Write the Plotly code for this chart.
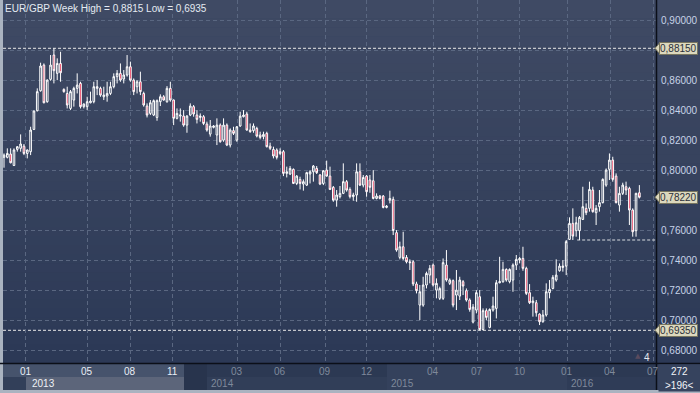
import plotly.graph_objects as go

# ---------------- data (weekly EUR/GBP candles) ----------------
open_ = [0.8088, 0.8088, 0.8110, 0.8034, 0.8141, 0.8148, 0.8163, 0.8114, 0.8126, 0.8274,
         0.8399, 0.8532, 0.8703, 0.8459, 0.8608, 0.8770, 0.8648, 0.8714, 0.8541, 0.8514,
         0.8414, 0.8470, 0.8548, 0.8581, 0.8426, 0.8426, 0.8452, 0.8459, 0.8548, 0.8548,
         0.8492, 0.8497, 0.8514, 0.8559, 0.8626, 0.8648, 0.8610, 0.8637, 0.8692, 0.8603,
         0.8559, 0.8592, 0.8514, 0.8430, 0.8381, 0.8370, 0.8354, 0.8459, 0.8492, 0.8459,
         0.8548, 0.8470, 0.8348, 0.8363, 0.8363, 0.8303, 0.8370, 0.8426, 0.8370, 0.8354,
         0.8359, 0.8310, 0.8243, 0.8288, 0.8237, 0.8303, 0.8203, 0.8303, 0.8170, 0.8266,
         0.8203, 0.8297, 0.8359, 0.8377, 0.8270, 0.8266, 0.8281, 0.8237, 0.8226, 0.8248,
         0.8163, 0.8141, 0.8137, 0.8126, 0.8126, 0.7981, 0.7977, 0.8008, 0.7914, 0.7941,
         0.7910, 0.7903, 0.7977, 0.7992, 0.8014, 0.7970, 0.7914, 0.8003, 0.7963, 0.7888,
         0.7803, 0.7826, 0.7848, 0.7926, 0.7874, 0.7826, 0.7837, 0.7992, 0.7903, 0.7963,
         0.7937, 0.7932, 0.7814, 0.7830, 0.7830, 0.7754, 0.7803, 0.7808, 0.7586, 0.7421,
         0.7492, 0.7421, 0.7392, 0.7392, 0.7244, 0.7103, 0.7103, 0.7237, 0.7303, 0.7370,
         0.7203, 0.7148, 0.7148, 0.7370, 0.7248, 0.7266, 0.7170, 0.7163, 0.7259, 0.7199,
         0.7137, 0.6990, 0.7070, 0.7159, 0.6940, 0.7066, 0.6954, 0.7070, 0.7081, 0.7252,
         0.7259, 0.7341, 0.7259, 0.7270, 0.7370, 0.7403, 0.7414, 0.7348, 0.7186, 0.7119,
         0.7119, 0.7043, 0.6992, 0.7037, 0.7186, 0.7214, 0.7270, 0.7332, 0.7354, 0.7363,
         0.7541, 0.7648, 0.7599, 0.7599, 0.7674, 0.7748, 0.7748, 0.7870, 0.7719, 0.7759,
         0.7786, 0.7903, 0.8008, 0.8070, 0.7963, 0.7770, 0.7848, 0.7892, 0.7881, 0.7737,
         0.7599, 0.7852]
high = [0.8114, 0.8148, 0.8148, 0.8148, 0.8163, 0.8241, 0.8177, 0.8141, 0.8292, 0.8399,
        0.8548, 0.8719, 0.8714, 0.8608, 0.8770, 0.8815, 0.8748, 0.8792, 0.8548, 0.8559,
        0.8537, 0.8559, 0.8648, 0.8592, 0.8448, 0.8492, 0.8526, 0.8592, 0.8603, 0.8559,
        0.8559, 0.8592, 0.8592, 0.8648, 0.8670, 0.8714, 0.8670, 0.8770, 0.8726, 0.8614,
        0.8603, 0.8659, 0.8526, 0.8448, 0.8470, 0.8474, 0.8474, 0.8508, 0.8503, 0.8563,
        0.8592, 0.8474, 0.8414, 0.8414, 0.8403, 0.8370, 0.8448, 0.8437, 0.8403, 0.8381,
        0.8370, 0.8326, 0.8337, 0.8303, 0.8348, 0.8314, 0.8348, 0.8314, 0.8281, 0.8292,
        0.8297, 0.8392, 0.8403, 0.8392, 0.8314, 0.8314, 0.8292, 0.8259, 0.8259, 0.8259,
        0.8186, 0.8159, 0.8148, 0.8148, 0.8137, 0.8026, 0.8030, 0.8014, 0.7970, 0.7959,
        0.7941, 0.7992, 0.8003, 0.8037, 0.8030, 0.7977, 0.8003, 0.8066, 0.8026, 0.7897,
        0.7870, 0.7897, 0.8048, 0.7937, 0.7888, 0.7852, 0.8048, 0.8048, 0.7970, 0.7970,
        0.7970, 0.8003, 0.7848, 0.7837, 0.7837, 0.7770, 0.7866, 0.7826, 0.7603, 0.7526,
        0.7592, 0.7437, 0.7408, 0.7403, 0.7259, 0.7237, 0.7292, 0.7326, 0.7370, 0.7381,
        0.7281, 0.7226, 0.7414, 0.7470, 0.7281, 0.7274, 0.7337, 0.7292, 0.7270, 0.7214,
        0.7148, 0.7110, 0.7203, 0.7203, 0.7081, 0.7081, 0.7081, 0.7159, 0.7270, 0.7425,
        0.7392, 0.7348, 0.7348, 0.7381, 0.7437, 0.7425, 0.7492, 0.7359, 0.7243, 0.7159,
        0.7137, 0.7048, 0.7070, 0.7248, 0.7270, 0.7303, 0.7408, 0.7381, 0.7403, 0.7537,
        0.7688, 0.7748, 0.7692, 0.7697, 0.7892, 0.7781, 0.7926, 0.7892, 0.7770, 0.7870,
        0.7948, 0.8014, 0.8114, 0.8092, 0.7981, 0.7892, 0.7919, 0.7926, 0.7892, 0.7748,
        0.7852, 0.7903]
low = [0.8019, 0.8081, 0.8048, 0.8030, 0.8126, 0.8126, 0.8103, 0.8081, 0.8103, 0.8270,
       0.8394, 0.8526, 0.8448, 0.8452, 0.8599, 0.8581, 0.8603, 0.8592, 0.8519, 0.8414,
       0.8403, 0.8426, 0.8514, 0.8414, 0.8414, 0.8403, 0.8448, 0.8448, 0.8503, 0.8492,
       0.8470, 0.8459, 0.8503, 0.8548, 0.8581, 0.8592, 0.8581, 0.8626, 0.8592, 0.8503,
       0.8514, 0.8503, 0.8426, 0.8354, 0.8370, 0.8363, 0.8332, 0.8430, 0.8466, 0.8452,
       0.8459, 0.8303, 0.8341, 0.8326, 0.8292, 0.8252, 0.8363, 0.8359, 0.8314, 0.8326,
       0.8303, 0.8259, 0.8226, 0.8281, 0.8170, 0.8186, 0.8192, 0.8163, 0.8154, 0.8237,
       0.8192, 0.8292, 0.8354, 0.8266, 0.8252, 0.8252, 0.8221, 0.8208, 0.8208, 0.8154,
       0.8137, 0.8081, 0.8074, 0.8103, 0.7963, 0.7954, 0.7970, 0.7910, 0.7903, 0.7874,
       0.7866, 0.7897, 0.7914, 0.7926, 0.7977, 0.7903, 0.7903, 0.7959, 0.7870, 0.7792,
       0.7759, 0.7814, 0.7843, 0.7859, 0.7814, 0.7799, 0.7792, 0.7897, 0.7888, 0.7826,
       0.7852, 0.7808, 0.7808, 0.7808, 0.7748, 0.7748, 0.7781, 0.7570, 0.7459, 0.7408,
       0.7403, 0.7381, 0.7337, 0.7230, 0.7181, 0.7003, 0.7092, 0.7214, 0.7248, 0.7226,
       0.7148, 0.7137, 0.7137, 0.7259, 0.7237, 0.7088, 0.7070, 0.7137, 0.7170, 0.7126,
       0.7059, 0.6981, 0.7048, 0.6935, 0.6935, 0.7003, 0.6948, 0.7059, 0.7014, 0.7248,
       0.7252, 0.7259, 0.7248, 0.7192, 0.7337, 0.7381, 0.7332, 0.7170, 0.7110, 0.7026,
       0.7026, 0.6970, 0.6986, 0.7026, 0.7148, 0.7208, 0.7259, 0.7326, 0.7326, 0.7303,
       0.7537, 0.7537, 0.7559, 0.7537, 0.7670, 0.7703, 0.7726, 0.7719, 0.7637, 0.7726,
       0.7781, 0.7892, 0.7937, 0.7926, 0.7781, 0.7726, 0.7837, 0.7837, 0.7637, 0.7559,
       0.7559, 0.7814]
close = [0.8103, 0.8114, 0.8052, 0.8137, 0.8159, 0.8177, 0.8114, 0.8137, 0.8270, 0.8397,
         0.8526, 0.8697, 0.8452, 0.8603, 0.8703, 0.8666, 0.8714, 0.8652, 0.8526, 0.8437,
         0.8526, 0.8548, 0.8570, 0.8426, 0.8443, 0.8459, 0.8463, 0.8559, 0.8559, 0.8503,
         0.8503, 0.8514, 0.8559, 0.8626, 0.8648, 0.8603, 0.8637, 0.8692, 0.8603, 0.8526,
         0.8592, 0.8526, 0.8437, 0.8370, 0.8452, 0.8466, 0.8466, 0.8492, 0.8470, 0.8548,
         0.8470, 0.8348, 0.8381, 0.8370, 0.8303, 0.8363, 0.8430, 0.8377, 0.8341, 0.8363,
         0.8314, 0.8270, 0.8297, 0.8297, 0.8303, 0.8192, 0.8303, 0.8170, 0.8270, 0.8248,
         0.8292, 0.8363, 0.8370, 0.8270, 0.8259, 0.8297, 0.8230, 0.8221, 0.8241, 0.8159,
         0.8148, 0.8097, 0.8088, 0.8114, 0.7981, 0.7992, 0.8014, 0.7914, 0.7963, 0.7914,
         0.7926, 0.7986, 0.7992, 0.8030, 0.7986, 0.7910, 0.7999, 0.7963, 0.7874, 0.7803,
         0.7837, 0.7848, 0.7926, 0.7870, 0.7826, 0.7837, 0.7992, 0.7903, 0.7954, 0.7859,
         0.7888, 0.7814, 0.7830, 0.7814, 0.7754, 0.7763, 0.7814, 0.7600, 0.7470, 0.7492,
         0.7414, 0.7392, 0.7386, 0.7244, 0.7199, 0.7192, 0.7237, 0.7314, 0.7348, 0.7237,
         0.7248, 0.7214, 0.7386, 0.7270, 0.7270, 0.7103, 0.7203, 0.7270, 0.7230, 0.7137,
         0.7074, 0.7090, 0.7186, 0.6940, 0.7066, 0.7021, 0.7074, 0.7097, 0.7252, 0.7259,
         0.7341, 0.7270, 0.7341, 0.7370, 0.7408, 0.7414, 0.7348, 0.7181, 0.7119, 0.7130,
         0.7052, 0.6992, 0.7037, 0.7192, 0.7208, 0.7288, 0.7303, 0.7363, 0.7363, 0.7526,
         0.7648, 0.7563, 0.7652, 0.7688, 0.7759, 0.7719, 0.7874, 0.7726, 0.7748, 0.7786,
         0.7941, 0.8003, 0.8070, 0.7941, 0.7786, 0.7848, 0.7903, 0.7870, 0.7737, 0.7592,
         0.7848, 0.7822]

price_ticks = [0.68, 0.70, 0.72, 0.74, 0.76, 0.78, 0.80, 0.82, 0.84, 0.86, 0.88, 0.90]
month_ticks = [6.6, 25.0, 37.9, 50.8, 70.1, 83.0, 96.5, 109.1, 129.0, 142.2, 155.1, 169.3, 182.2, 195.1]
month_labels = ["01", "05", "08", "11", "03", "06", "09", "12", "04", "07", "10", "01", "04", "07"]
month_year = [2013, 2013, 2013, 2013, 2014, 2014, 2014, 2014, 2015, 2015, 2015, 2016, 2016, 2016]
year_labels = ["2013", "2014", "2015", "2016"]
support_level = 0.7537
support_start = 172.3
bars_total = 272
bars_visible = 196

x = list(range(len(close)))
hi, lo, last = max(high), min(low), close[-1]
marked = (hi, last, lo)
label_ticks = [v for v in price_ticks if all(abs(v - m) > 0.005 for m in marked)]


def dec(v, n):
    return f"{v:.{n}f}".replace(".", ",")


# ---------------- geometry helpers (pixel -> paper) ----------------
W, H = 700, 393
L, R, T, B = 3, 43, 0, 30
PW, PH = W - L - R, H - T - B


def px(p):
    return (p - L) / PW


def py(p):
    return (H - B - p) / PH


fig = go.Figure()
fig.add_trace(go.Candlestick(
    x=x, open=open_, high=high, low=low, close=close,
    increasing=dict(line=dict(color="#ffffff", width=1), fillcolor="rgba(0,0,0,0)"),
    decreasing=dict(line=dict(color="#ffffff", width=1), fillcolor="#e3143c"),
    whiskerwidth=0, showlegend=False, hoverinfo="skip",
))

shapes = []
# background gradient for chart + right scale
N = 40
top_c, bot_c = (63, 74, 100), (44, 57, 86)
for i in range(N):
    t = i / (N - 1)
    c = tuple(round(top_c[k] + (bot_c[k] - top_c[k]) * t) for k in range(3))
    y0 = i * 363 / N
    y1 = (i + 1) * 363 / N + 0.5
    shapes.append(dict(type="rect", xref="paper", yref="paper", x0=px(0), x1=px(700),
                       y0=py(y1), y1=py(y0), fillcolor="rgb(%d,%d,%d)" % c,
                       line=dict(width=0), layer="below"))


def rect(x0, x1, y0, y1, color, layer="below"):
    shapes.append(dict(type="rect", xref="paper", yref="paper", x0=px(x0), x1=px(x1),
                       y0=py(y1), y1=py(y0), fillcolor=color, line=dict(width=0), layer=layer))


# bottom time bar
rect(0, 700, 363, 393, "#2c3953")
rect(3, 184, 364, 377, "#46536c")
rect(184, 207, 364, 390, "#28344d")
rect(3, 26, 377, 390, "#323f59")
rect(26, 184, 377, 390, "#5c657a")
rect(207, 387, 377, 390, "#313e58")
rect(387, 567, 364, 390, "#34415c")
rect(567, 656, 377, 390, "#2f3c57")
rect(657, 700, 363, 390, "#36435e")
rect(0, 700, 390, 393, "#aab3c0", "above")
rect(0, 3, 0, 393, "#aab3c0", "above")

# level lines
for lvl in (hi, lo):
    shapes.append(dict(type="line", xref="paper", yref="y", x0=px(3), x1=1, y0=lvl, y1=lvl,
                       line=dict(color="#e8e8e8", width=1, dash="3px,2px"), layer="between"))
shapes.append(dict(type="line", xref="x", yref="y", x0=support_start, x1=len(close) + 10,
                   y0=support_level, y1=support_level,
                   line=dict(color="#d8dbe0", width=1, dash="3px,2px"), layer="between"))

# frame lines
shapes.append(dict(type="line", xref="paper", yref="paper", x0=px(0), x1=px(700), y0=py(363.5), y1=py(363.5),
                   line=dict(color="#0b0f18", width=1.5), layer="above"))
shapes.append(dict(type="line", xref="paper", yref="paper", x0=px(656.5), x1=px(656.5), y0=py(0), y1=py(390),
                   line=dict(color="#0b0f18", width=1.5), layer="above"))
shapes.append(dict(type="line", xref="paper", yref="paper", x0=px(663), x1=px(696), y0=py(377), y1=py(377),
                   line=dict(color="#5d6a84", width=1), layer="above"))

annotations = []
# title
annotations.append(dict(text=f"EUR/GBP Week High = {dec(hi, 4)} Low = {dec(lo, 4)}",
                        xref="paper", yref="paper", x=px(3), y=py(8), xanchor="left", yanchor="middle",
                        showarrow=False, font=dict(family="Liberation Sans, Arial", size=10, color="#e4eaf2")))

# month labels
for pos, lab, yr in zip(month_ticks, month_labels, month_year):
    col = "#e9eef5" if yr == 2013 else "#7f899b"
    annotations.append(dict(text=lab, xref="x", yref="paper", x=pos, y=py(371), xanchor="center",
                            yanchor="middle", showarrow=False,
                            font=dict(family="Liberation Sans, Arial", size=10, color=col)))
# year labels
year_px = [30, 209, 389, 569]
for lab, xp in zip(year_labels, year_px):
    col = "#eef1f6" if lab == "2013" else "#7f899b"
    annotations.append(dict(text=lab, xref="paper", yref="paper", x=px(xp), y=py(383.5), xanchor="left",
                            yanchor="middle", showarrow=False,
                            font=dict(family="Liberation Sans, Arial", size=10, color=col)))

# right-bottom counter box (drawn over the clipped last month label)
annotations.append(dict(text="", xref="paper", yref="paper", x=px(657.5), y=py(363.8), xanchor="left",
                        yanchor="top", showarrow=False, width=42, height=26, bgcolor="#36435e",
                        borderpad=0))
annotations.append(dict(text=str(bars_total), xref="paper", yref="paper", x=px(679), y=py(371),
                        xanchor="center", yanchor="middle", showarrow=False,
                        font=dict(family="Liberation Sans, Arial", size=10, color="#f2f4f8")))
annotations.append(dict(text=f"&gt;{bars_visible}&lt;", xref="paper", yref="paper", x=px(679), y=py(385),
                        xanchor="center", yanchor="middle", showarrow=False,
                        font=dict(family="Liberation Sans, Arial", size=10, color="#f2f4f8")))
annotations.append(dict(text="4", xref="paper", yref="paper", x=px(647), y=py(357), xanchor="center",
                        yanchor="middle", showarrow=False,
                        font=dict(family="Liberation Sans, Arial", size=10, color="#e6eaf0")))
annotations.append(dict(text="▲", xref="paper", yref="paper", x=px(638), y=py(356), xanchor="center",
                        yanchor="middle", showarrow=False,
                        font=dict(family="DejaVu Sans", size=7, color="#5a4b5e")))

# highlighted price boxes on the right scale
for lvl in marked:
    annotations.append(dict(text=dec(lvl, 5), xref="paper", yref="y", x=px(658.5), y=lvl,
                            xanchor="left", yanchor="middle", showarrow=False,
                            bgcolor="#dcd8bd", bordercolor="#77755f", borderwidth=1, borderpad=0,
                            font=dict(family="Liberation Sans, Arial", size=10, color="#2b303a")))
    shapes.append(dict(type="path", xref="paper", yref="y",
                       path=f"M {px(655)},{lvl} L {px(659.5)},{lvl + 0.0035} L {px(659.5)},{lvl - 0.0035} Z",
                       fillcolor="#dcd8bd", line=dict(color="#77755f", width=1), layer="above"))

grid_style = dict(showgrid=True, gridcolor="#5a6781", griddash="4px,3px", gridwidth=1)

fig.update_layout(
    width=W, height=H,
    margin=dict(l=L, r=R, t=T, b=B, pad=0),
    paper_bgcolor="#33405b",
    plot_bgcolor="rgba(0,0,0,0)",
    separators=",.",
    shapes=shapes,
    annotations=annotations,
    showlegend=False,
    xaxis=dict(range=[-0.3, 196.3], rangeslider=dict(visible=False), tickvals=month_ticks,
               showticklabels=False, ticks="", zeroline=False, showline=False, fixedrange=True,
               **grid_style),
    yaxis=dict(range=[0.6717, 0.9137], side="right", tickmode="array", tickvals=label_ticks,
               tickformat=".5f", ticks="", showgrid=False, zeroline=False, showline=False,
               ticklabelstandoff=3, fixedrange=True,
               minor=dict(tickmode="array", tickvals=price_ticks, ticks="", **grid_style),
               tickfont=dict(family="Liberation Sans, Arial", size=10, color="#c7d3e8")),
)

fig.write_html("out.html", config={"displayModeBar": False, "staticPlot": True},
               post_script="document.body.style.margin='0px';document.body.style.overflow='hidden';")
